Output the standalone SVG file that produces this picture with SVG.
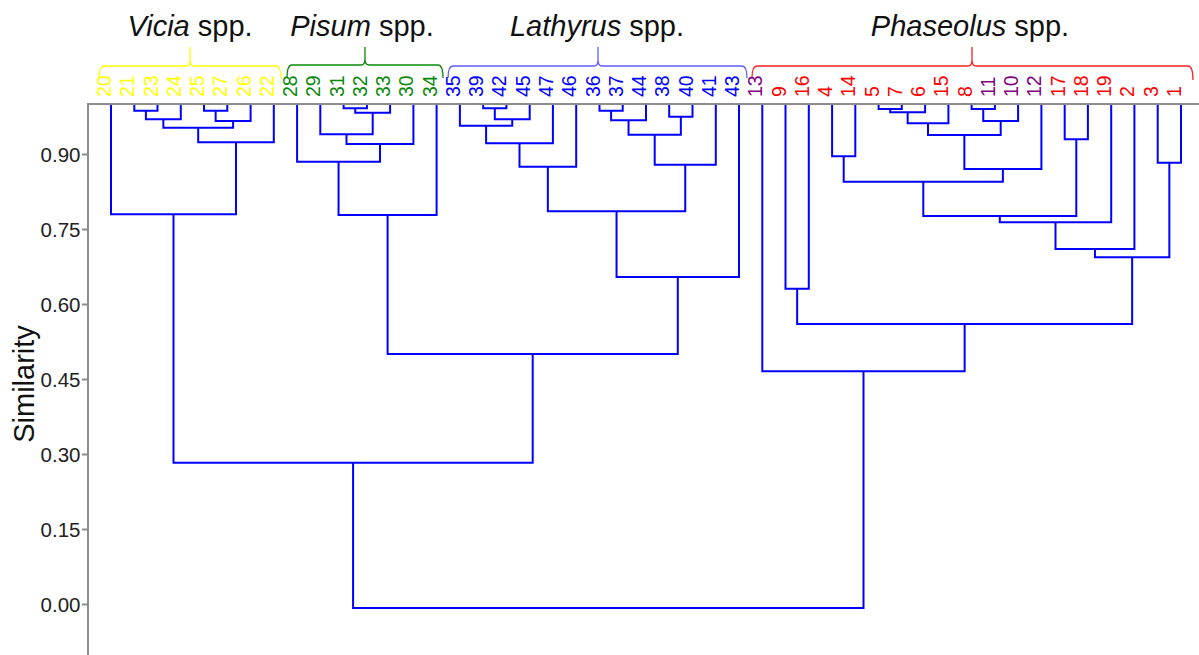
<svg xmlns="http://www.w3.org/2000/svg" width="1199" height="655" viewBox="0 0 1199 655">
  <style>
    text { font-family: "Liberation Sans", Arial, sans-serif; }
    .axis { stroke: #8c8c8c; stroke-width: 2; fill: none; }
    .tick { font-size: 20.5px; fill: #222; text-anchor: end; }
    .ylab { font-size: 29px; fill: #111; text-anchor: middle; }
    .title { font-size: 29px; fill: #111; text-anchor: middle; }
    .leaf { font-size: 19.5px; text-anchor: start; }
    .br { fill: none; stroke-width: 1.3; }
    .tree path { fill: none; stroke: #0000ff; stroke-width: 2; }
    .vicia { fill: #ffff00; }
    .pisum { fill: #0a8a0a; }
    .lathyrus { fill: #0000ff; }
    .phaseolus { fill: #ff0000; }
    .purple { fill: #800080; }
  </style>

  <!-- axis frame -->
  <g id="axis">
    <line class="axis" x1="88" y1="104" x2="1199" y2="104"/>
    <line class="axis" x1="88" y1="103" x2="88" y2="655"/>
    <g class="axis">
      <line x1="82" y1="154.5" x2="88" y2="154.5"/>
      <line x1="82" y1="229.5" x2="88" y2="229.5"/>
      <line x1="82" y1="304.5" x2="88" y2="304.5"/>
      <line x1="82" y1="379.5" x2="88" y2="379.5"/>
      <line x1="82" y1="454.5" x2="88" y2="454.5"/>
      <line x1="82" y1="529.5" x2="88" y2="529.5"/>
      <line x1="82" y1="604.5" x2="88" y2="604.5"/>
    </g>
    <text class="tick" x="80.5" y="161.8">0.90</text>
    <text class="tick" x="80.5" y="236.8">0.75</text>
    <text class="tick" x="80.5" y="311.8">0.60</text>
    <text class="tick" x="80.5" y="386.8">0.45</text>
    <text class="tick" x="80.5" y="461.8">0.30</text>
    <text class="tick" x="80.5" y="536.8">0.15</text>
    <text class="tick" x="80.5" y="611.8">0.00</text>
    <text class="ylab" transform="translate(34,384) rotate(-90)">Similarity</text>
  </g>

  <!-- group brackets and titles -->
  <g id="group-vicia">
    <path class="br" stroke="#ffff00" d="M99 78 Q99 66 104 66 H186 Q190 66 190 60 V47 M190 60 Q190 66 194 66 H276 Q281 66 281 78"/>
    <text class="title" x="190" y="36"><tspan font-style="italic">Vicia</tspan> spp.</text>
  </g>
  <g id="group-pisum">
    <path class="br" stroke="#0a8a0a" d="M287 78 Q287 65 292 65 H361 Q365 65 365 59 V47 M365 59 Q365 65 369 65 H438 Q443 65 443 78"/>
    <text class="title" x="362" y="36"><tspan font-style="italic">Pisum</tspan> spp.</text>
  </g>
  <g id="group-lathyrus">
    <path class="br" stroke="#5c5cff" d="M448 78 Q448 66 453 66 H594 Q598 66 598 60 V47 M598 60 Q598 66 602 66 H742 Q747 66 747 78"/>
    <text class="title" x="597" y="36"><tspan font-style="italic">Lathyrus</tspan> spp.</text>
  </g>
  <g id="group-phaseolus">
    <path class="br" stroke="#ff2020" d="M752 78 Q752 66 757 66 H968 Q972 66 972 60 V47 M972 60 Q972 66 976 66 H1188 Q1193 66 1193 80"/>
    <text class="title" x="970" y="36"><tspan font-style="italic">Phaseolus</tspan> spp.</text>
  </g>

  <!-- leaf labels -->
  <g id="leaves">
    <text class="leaf vicia" transform="translate(111,97) rotate(-90)">20</text>
    <text class="leaf vicia" transform="translate(134.3,97) rotate(-90)">21</text>
    <text class="leaf vicia" transform="translate(157.5,97) rotate(-90)">23</text>
    <text class="leaf vicia" transform="translate(180.8,97) rotate(-90)">24</text>
    <text class="leaf vicia" transform="translate(204,97) rotate(-90)">25</text>
    <text class="leaf vicia" transform="translate(227.3,97) rotate(-90)">27</text>
    <text class="leaf vicia" transform="translate(250.6,97) rotate(-90)">26</text>
    <text class="leaf vicia" transform="translate(273.8,97) rotate(-90)">22</text>
    <text class="leaf pisum" transform="translate(297.1,97) rotate(-90)">28</text>
    <text class="leaf pisum" transform="translate(320.3,97) rotate(-90)">29</text>
    <text class="leaf pisum" transform="translate(343.6,97) rotate(-90)">31</text>
    <text class="leaf pisum" transform="translate(366.9,97) rotate(-90)">32</text>
    <text class="leaf pisum" transform="translate(390.1,97) rotate(-90)">33</text>
    <text class="leaf pisum" transform="translate(413.4,97) rotate(-90)">30</text>
    <text class="leaf pisum" transform="translate(436.6,97) rotate(-90)">34</text>
    <text class="leaf lathyrus" transform="translate(459.9,97) rotate(-90)">35</text>
    <text class="leaf lathyrus" transform="translate(483.2,97) rotate(-90)">39</text>
    <text class="leaf lathyrus" transform="translate(506.4,97) rotate(-90)">42</text>
    <text class="leaf lathyrus" transform="translate(529.7,97) rotate(-90)">45</text>
    <text class="leaf lathyrus" transform="translate(552.9,97) rotate(-90)">47</text>
    <text class="leaf lathyrus" transform="translate(576.2,97) rotate(-90)">46</text>
    <text class="leaf lathyrus" transform="translate(599.5,97) rotate(-90)">36</text>
    <text class="leaf lathyrus" transform="translate(622.7,97) rotate(-90)">37</text>
    <text class="leaf lathyrus" transform="translate(646,97) rotate(-90)">44</text>
    <text class="leaf lathyrus" transform="translate(669.2,97) rotate(-90)">38</text>
    <text class="leaf lathyrus" transform="translate(692.5,97) rotate(-90)">40</text>
    <text class="leaf lathyrus" transform="translate(715.8,97) rotate(-90)">41</text>
    <text class="leaf lathyrus" transform="translate(739,97) rotate(-90)">43</text>
    <text class="leaf purple" transform="translate(762.3,97) rotate(-90)">13</text>
    <text class="leaf phaseolus" transform="translate(785.5,97) rotate(-90)">9</text>
    <text class="leaf phaseolus" transform="translate(808.8,97) rotate(-90)">16</text>
    <text class="leaf phaseolus" transform="translate(832.1,97) rotate(-90)">4</text>
    <text class="leaf phaseolus" transform="translate(855.3,97) rotate(-90)">14</text>
    <text class="leaf phaseolus" transform="translate(878.6,97) rotate(-90)">5</text>
    <text class="leaf phaseolus" transform="translate(901.8,97) rotate(-90)">7</text>
    <text class="leaf phaseolus" transform="translate(925.1,97) rotate(-90)">6</text>
    <text class="leaf phaseolus" transform="translate(948.4,97) rotate(-90)">15</text>
    <text class="leaf phaseolus" transform="translate(971.6,97) rotate(-90)">8</text>
    <text class="leaf purple" transform="translate(994.9,97) rotate(-90)">11</text>
    <text class="leaf purple" transform="translate(1018.1,97) rotate(-90)">10</text>
    <text class="leaf purple" transform="translate(1041.4,97) rotate(-90)">12</text>
    <text class="leaf phaseolus" transform="translate(1064.7,97) rotate(-90)">17</text>
    <text class="leaf phaseolus" transform="translate(1087.9,97) rotate(-90)">18</text>
    <text class="leaf phaseolus" transform="translate(1111.2,97) rotate(-90)">19</text>
    <text class="leaf phaseolus" transform="translate(1134.4,97) rotate(-90)">2</text>
    <text class="leaf phaseolus" transform="translate(1157.7,97) rotate(-90)">3</text>
    <text class="leaf phaseolus" transform="translate(1181,97) rotate(-90)">1</text>
  </g>

  <!-- dendrogram links: each path joins two clusters at their merge height -->
  <g id="connectors" class="tree">
    <!-- Vicia -->
    <path d="M134.3 105 V110.7 H157.5 V105"/>
    <path d="M145.9 110.7 V119.3 H180.8 V105"/>
    <path d="M204 105 V110.7 H227.3 V105"/>
    <path d="M215.65 110.7 V121 H250.6 V105"/>
    <path d="M163.35 119.3 V127.7 H233.1 V121"/>
    <path d="M198.2 127.7 V142.3 H273.8 V105"/>
    <path d="M111 105 V214.3 H236 V142.3"/>
    <!-- Pisum -->
    <path d="M343.6 105 V108.3 H366.9 V105"/>
    <path d="M355.25 108.3 V112.7 H390.1 V105"/>
    <path d="M320.3 105 V134.3 H372.7 V112.7"/>
    <path d="M346.5 134.3 V144 H413.4 V105"/>
    <path d="M297.1 105 V161.7 H380 V144"/>
    <path d="M338.55 161.7 V215 H436.6 V105"/>
    <!-- Lathyrus -->
    <path d="M483.2 105 V108.3 H506.4 V105"/>
    <path d="M494.8 108.3 V119.3 H529.7 V105"/>
    <path d="M459.9 105 V125.7 H512.25 V119.3"/>
    <path d="M486.1 125.7 V143.3 H552.9 V105"/>
    <path d="M519.5 143.3 V166.7 H576.2 V105"/>
    <path d="M599.5 105 V110.7 H622.7 V105"/>
    <path d="M611.1 110.7 V120.3 H646 V105"/>
    <path d="M669.2 105 V116.7 H692.5 V105"/>
    <path d="M628.55 120.3 V134.7 H680.85 V116.7"/>
    <path d="M654.7 134.7 V164.7 H715.8 V105"/>
    <path d="M547.85 166.7 V211.3 H685.25 V164.7"/>
    <path d="M616.55 211.3 V277 H739 V105"/>
    <!-- Pisum + Lathyrus, then Vicia -->
    <path d="M387.6 215 V354 H677.8 V277"/>
    <path d="M173.5 214.3 V462.7 H532.7 V354"/>
    <!-- Phaseolus -->
    <path d="M878.6 105 V109 H901.8 V105"/>
    <path d="M890.2 109 V112.3 H925.1 V105"/>
    <path d="M907.65 112.3 V123.3 H948.4 V105"/>
    <path d="M971.6 105 V109 H994.9 V105"/>
    <path d="M983.25 109 V121 H1018.1 V105"/>
    <path d="M928 123.3 V135 H1000.7 V121"/>
    <path d="M964.35 135 V169 H1041.4 V105"/>
    <path d="M832.1 105 V156.3 H855.3 V105"/>
    <path d="M843.7 156.3 V181.7 H1002.9 V169"/>
    <path d="M1064.7 105 V139.3 H1087.9 V105"/>
    <path d="M923.3 181.7 V216 H1076.3 V139.3"/>
    <path d="M999.8 216 V222.3 H1111.2 V105"/>
    <path d="M1055.5 222.3 V249 H1134.4 V105"/>
    <path d="M1157.7 105 V162.7 H1181 V105"/>
    <path d="M1094.95 249 V257.3 H1169.35 V162.7"/>
    <path d="M785.5 105 V288.7 H808.8 V105"/>
    <path d="M797.15 288.7 V324 H1132.15 V257.3"/>
    <path d="M762.3 105 V371.3 H964.65 V324"/>
    <!-- root -->
    <path d="M353.1 462.7 V608 H863.5 V371.3"/>
  </g>
</svg>
